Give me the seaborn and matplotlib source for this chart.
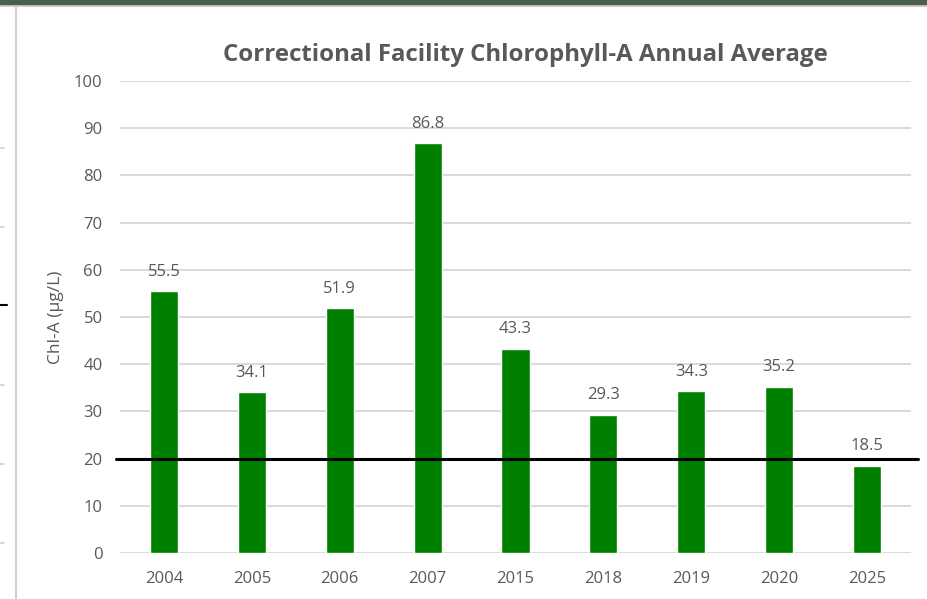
import matplotlib
matplotlib.use("Agg")
import matplotlib.pyplot as plt
from matplotlib.lines import Line2D
import seaborn as sns
import pandas as pd

years = ["2004", "2005", "2006", "2007", "2015", "2018", "2019", "2020", "2025"]
chl_a = [55.5, 34.1, 51.9, 86.8, 43.3, 29.3, 34.3, 35.2, 18.5]
threshold = 20
y_ticks = [0, 10, 20, 30, 40, 50, 60, 70, 80, 90, 100]

title = "Correctional Facility Chlorophyll-A Annual Average"
y_label = "Chl-A (µg/L)"

sns.set_theme(style="white")
plt.rcParams["font.family"] = ["Open Sans", "DejaVu Sans"]

TEXT = "#595959"
GRID = "#d9d9d9"
GREEN = "#008000"

df = pd.DataFrame({"year": years, "chl": chl_a})

fig = plt.figure(figsize=(9.28, 5.99), dpi=100)
ax = fig.add_axes([0.1293, 0.0768, 0.9817 - 0.1293, 0.8648 - 0.0768])

sns.barplot(data=df, x="year", y="chl", color=GREEN, saturation=1,
            width=0.32, ax=ax, zorder=3)

ax.set_ylim(0, 100)
ax.set_xlim(-0.5, len(years) - 0.5)
ax.set_yticks(y_ticks)
ax.yaxis.grid(True, color=GRID, linewidth=1.4, zorder=0)
ax.xaxis.grid(False)
for s in ax.spines.values():
    s.set_visible(False)
ax.tick_params(axis="both", length=0, labelsize=12, colors=TEXT)
ax.tick_params(axis="x", pad=13)
ax.tick_params(axis="y", pad=12.5)
ax.set_xlabel("")
ax.set_ylabel(y_label, fontsize=12.5, color=TEXT, labelpad=7)

# value labels above each bar
for patch, v in zip(ax.patches, chl_a):
    cx = patch.get_x() + patch.get_width() / 2
    ax.annotate(f"{v:.1f}", (cx, v), xytext=(0, 14), textcoords="offset points",
                ha="center", va="center", fontsize=12, color=TEXT, zorder=4)

# target line, running slightly past the plot area
ax.add_line(Line2D([-0.55, len(years) - 0.42], [threshold, threshold],
                   color="black", linewidth=2.2, zorder=5, clip_on=False))

fig.text(0.5657, 0.908, title, ha="center", va="center", fontsize=17.3,
         fontweight="bold", color=TEXT)

# window frame around the chart
fig.add_artist(plt.Rectangle((0, 1 - 4 / 599), 1, 4 / 599, transform=fig.transFigure,
                             color="#4a5f50", zorder=10))
fig.add_artist(Line2D([0, 1], [1 - 5.5 / 599, 1 - 5.5 / 599], transform=fig.transFigure,
                      color="#d0d0d0", linewidth=1.5))
fig.add_artist(Line2D([16 / 928, 16 / 928], [0, 1 - 5 / 599], transform=fig.transFigure,
                      color="#d0d0d0", linewidth=1.5))
for ypx in [148, 227, 385, 464, 543]:
    fig.add_artist(Line2D([0, 4 / 928], [1 - ypx / 599] * 2, transform=fig.transFigure,
                          color="#d0d0d0", linewidth=1.2))
fig.add_artist(Line2D([0, 7 / 928], [1 - 305 / 599] * 2, transform=fig.transFigure,
                      color="black", linewidth=1.5))

fig.savefig("out.png", dpi=100)
